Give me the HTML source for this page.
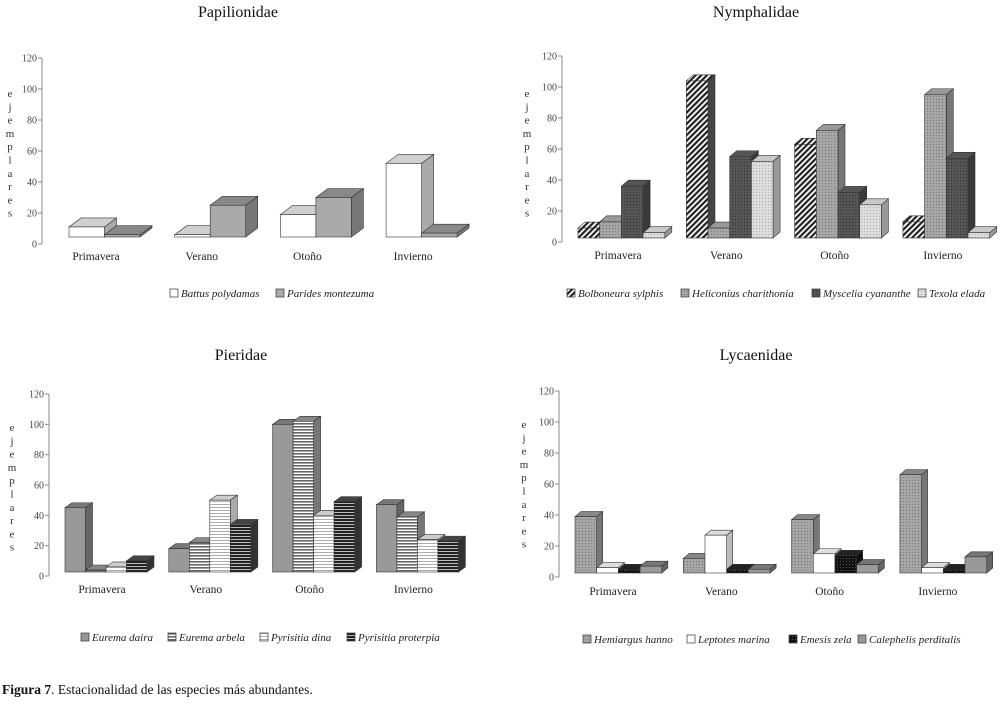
<!DOCTYPE html>
<html><head><meta charset="utf-8"><style>
html,body{margin:0;padding:0;background:#fff;}
svg{display:block;font-family:"Liberation Serif",serif;}
</style></head><body>
<svg id="fig" width="1000" height="705" viewBox="0 0 1000 705" xmlns="http://www.w3.org/2000/svg">
<defs>
<pattern id="pDiag" width="4" height="4" patternUnits="userSpaceOnUse" patternTransform="rotate(45)"><rect width="4" height="4" fill="#fff"/><rect width="2.2" height="4" fill="#222"/></pattern>
<pattern id="pDots" width="3" height="3" patternUnits="userSpaceOnUse"><rect width="3" height="3" fill="#a6a6a6"/><rect width="1" height="1" fill="#777"/></pattern>
<pattern id="pDark" width="3" height="3" patternUnits="userSpaceOnUse"><rect width="3" height="3" fill="#555"/><rect width="1" height="1" fill="#333"/></pattern>
<pattern id="pLight" width="3" height="3" patternUnits="userSpaceOnUse"><rect width="3" height="3" fill="#ddd"/><rect width="1" height="1" fill="#aaa"/></pattern>
<pattern id="hGray" width="4" height="3" patternUnits="userSpaceOnUse"><rect width="4" height="3" fill="#fff"/><rect width="4" height="1.6" fill="#666"/></pattern>
<pattern id="hWhite" width="4" height="3" patternUnits="userSpaceOnUse"><rect width="4" height="3" fill="#fff"/><rect width="4" height="0.8" fill="#999"/></pattern>
<pattern id="hDark" width="4" height="3" patternUnits="userSpaceOnUse"><rect width="4" height="3" fill="#bbb"/><rect width="4" height="2" fill="#222"/></pattern>
<pattern id="pBlack" width="3" height="3" patternUnits="userSpaceOnUse"><rect width="3" height="3" fill="#111"/><rect width="1" height="1" fill="#555"/></pattern>
</defs>
<g id="charts"></g>
<text x="2" y="694" font-size="13.5" fill="#111"><tspan font-weight="bold">Figura 7</tspan>. Estacionalidad de las especies más abundantes.</text>
</svg>
<script>
const seasons = ["Primavera","Verano","Otoño","Invierno"];
const yTicks = [0,20,40,60,80,100,120];

const papNames = ["Battus polydamas","Parides montezuma"];
const papBattus = [11,6,19,52];
const papParides = [6,25,30,7];

const nymNames = ["Bolboneura sylphis","Heliconius charithonia","Myscelia cyananthe","Texola elada"];
const nymBolboneura = [9,104,63,13];
const nymHeliconius = [13,9,72,95];
const nymMyscelia = [36,55,32,54];
const nymTexola = [6,52,24,6];

const pieNames = ["Eurema daira","Eurema arbela","Pyrisitia dina","Pyrisitia proterpia"];
const pieDaira = [45,18,100,47];
const pieArbela = [2,22,102,39];
const pieDina = [6,50,40,24];
const pieProterpia = [10,34,49,23];

const lycNames = ["Hemiargus hanno","Leptotes marina","Emesis zela","Calephelis perditalis"];
const lycHanno = [39,12,37,66];
const lycMarina = [6,27,15,6];
const lycZela = [5,5,14,5];
const lycCalephelis = [7,5,8,13];

const NS="http://www.w3.org/2000/svg";
const root=document.getElementById('charts');
function mk(tag,attrs,parent){const e=document.createElementNS(NS,tag);for(const k in attrs)e.setAttribute(k,attrs[k]);(parent||root).appendChild(e);return e;}

function chart(cfg){
  const g=mk('g',{});
  
  
  const t=mk('text',{x:cfg.tx,y:cfg.ty,'font-size':16,'text-anchor':'middle',fill:'#111'},g);
  t.textContent=cfg.title;
  
  
  const ppu=(cfg.y0-cfg.y120)/120;
  const y=v=>cfg.y0-v*ppu;
  mk('line',{x1:cfg.ax,y1:cfg.y120,x2:cfg.ax,y2:cfg.y0,stroke:'#888','stroke-width':1},g);
  yTicks.forEach(v=>{
    mk('line',{x1:cfg.ax-4,y1:y(v),x2:cfg.ax,y2:y(v),stroke:'#888'},g);
    const tl=mk('text',{x:cfg.ax-5,y:y(v)+3.5,'font-size':10,'text-anchor':'end',fill:'#444'},g);
    tl.textContent=v;
    
    
  });
  const lab=mk('text',{'font-size':11,fill:'#333','text-anchor':'middle'},g);
  
  
  "ejemplares".split('').forEach((c,i)=>{const ts=mk('tspan',{x:cfg.lx,y:cfg.ly+i*13.3},lab);ts.textContent=c;});
  const n=cfg.series.length;
  seasons.forEach((s,si)=>{
    const gx=cfg.gx0+si*cfg.gsp;
    for(let k=0;k<n;k++){
      const v=cfg.series[k][si];
      const x=gx+k*cfg.bw, w=cfg.bw, dx=cfg.dx, dy=cfg.dy;
      const yb=cfg.base; let yt=Math.min(y(v),yb-2);
      const st=cfg.styles[k];
      const side=mk('polygon',{points:`${x+w},${yt} ${x+w+dx},${yt-dy} ${x+w+dx},${yb-dy} ${x+w},${yb}`,fill:st.side,stroke:'#333','stroke-width':0.6},g);
      
      
      const top=mk('polygon',{points:`${x},${yt} ${x+w},${yt} ${x+w+dx},${yt-dy} ${x+dx},${yt-dy}`,fill:st.top,stroke:'#333','stroke-width':0.6},g);
      
      
      const fr=mk('rect',{x:x,y:yt,width:w,height:yb-yt,fill:st.front,stroke:'#333','stroke-width':0.6},g);
      
      
    }
    const cl=mk('text',{x:gx+cfg.clOff,y:cfg.cy,'font-size':11.5,'text-anchor':'middle',fill:'#222'},g);
    cl.textContent=s;
    
    
  });
  cfg.names.forEach((nm,k)=>{
    const lx=cfg.legX[k];
    const b=mk('rect',{x:lx,y:cfg.legY-8,width:8,height:8,fill:cfg.styles[k].front,stroke:'#333','stroke-width':0.7},g);
    
    
    const tx=mk('text',{x:lx+11,y:cfg.legY,'font-size':11,'font-style':'italic',fill:'#222'},g);
    tx.textContent=nm;
    
    
  });
}

chart({id:'papilionidae',title:'Papilionidae',tx:238,ty:17,ax:42,y0:244,y120:58,base:237,lx:10,ly:97,
  gx0:69,gsp:105.7,bw:35.5,dx:12,dy:9,clOff:27,cy:260,
  series:[papBattus,papParides],names:papNames,legX:[170,276],legY:297,
  styles:[{front:'#fff',top:'#d0d0d0',side:'#aaa'},{front:'#aaa',top:'#888',side:'#777'}]});

chart({id:'nymphalidae',title:'Nymphalidae',tx:756,ty:17,ax:562,y0:242,y120:56,base:238,lx:527,ly:97,
  gx0:578,gsp:108.3,bw:21.7,dx:7,dy:6,clOff:40,cy:259,
  series:[nymBolboneura,nymHeliconius,nymMyscelia,nymTexola],names:nymNames,legX:[567,681,812,918],legY:297,
  styles:[{front:'url(#pDiag)',top:'url(#pDiag)',side:'#444'},{front:'url(#pDots)',top:'#999',side:'#777'},
          {front:'url(#pDark)',top:'#555',side:'#3a3a3a'},{front:'url(#pLight)',top:'#c8c8c8',side:'#999'}]});

chart({id:'pieridae',title:'Pieridae',tx:241,ty:360,ax:49,y0:576,y120:394,base:572,lx:12,ly:431,
  gx0:65,gsp:103.8,bw:20.5,dx:7,dy:5,clOff:37,cy:593,
  series:[pieDaira,pieArbela,pieDina,pieProterpia],names:pieNames,legX:[81,168,260,347],legY:641,
  styles:[{front:'#999',top:'#777',side:'#666'},{front:'url(#hGray)',top:'#888',side:'#777'},
          {front:'url(#hWhite)',top:'#ccc',side:'#aaa'},{front:'url(#hDark)',top:'#444',side:'#333'}]});

chart({id:'lycaenidae',title:'Lycaenidae',tx:756,ty:360,ax:559,y0:577,y120:391,base:573,lx:524,ly:428,
  gx0:575,gsp:108.3,bw:21.7,dx:6,dy:5,clOff:38,cy:595,
  series:[lycHanno,lycMarina,lycZela,lycCalephelis],names:lycNames,legX:[583,687,789,858],legY:643,
  styles:[{front:'url(#pDots)',top:'#888',side:'#777'},{front:'#fff',top:'#ddd',side:'#bbb'},
          {front:'url(#pBlack)',top:'#222',side:'#111'},{front:'#999',top:'#777',side:'#666'}]});
</script>
</body></html>
